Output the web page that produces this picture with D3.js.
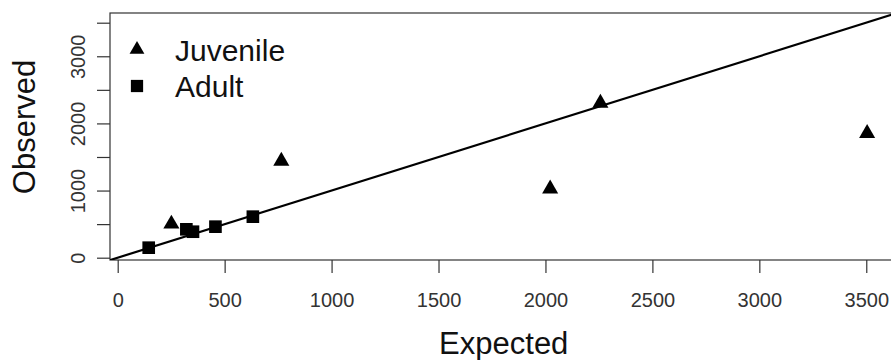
<!DOCTYPE html>
<html>
<head>
<meta charset="utf-8">
<script src="https://cdn.jsdelivr.net/npm/d3@7"></script>
<style>
  html, body { margin: 0; padding: 0; background: #fff; }
  svg { display: block; font-family: "Liberation Sans", Arial, sans-serif; }
</style>
</head>
<body>
<div id="chart"></div>
<script>
// Values
const juvenileExpected = [251, 765, 2022, 2257, 3504];
const juvenileObserved = [503, 1440, 1026, 2304, 1853];
const adultExpected = [145, 321, 352, 457, 632];
const adultObserved = [149, 423, 387, 462, 611];

const xTicks = [0, 500, 1000, 1500, 2000, 2500, 3000, 3500];
const yTicks = [0, 500, 1000, 1500, 2000, 2500, 3000, 3500];
const yTickLabels = [0, 1000, 2000, 3000];

const legendNames = ["Juvenile", "Adult"];

// Size of the drawing
const width = 891, height = 360;
const plot = { left: 110, right: 897.5, top: 13, bottom: 260 };

const svg = d3.select("#chart").append("svg")
    .attr("width", width)
    .attr("height", height);

// Scales (same limits on both axes, like an R plot with equal ranges)
const xScale = d3.scaleLinear().domain([-36, 3646]).range([plot.left, plot.right]);
const yScale = d3.scaleLinear().domain([-34.3, 3644.5]).range([plot.bottom, plot.top]);

// Clip for the 1:1 line
svg.append("clipPath").attr("id", "plot-clip")
    .append("rect")
    .attr("x", plot.left).attr("y", plot.top)
    .attr("width", plot.right - plot.left).attr("height", plot.bottom - plot.top);

// Box round the plot region
svg.append("rect")
    .attr("x", plot.left).attr("y", plot.top)
    .attr("width", plot.right - plot.left).attr("height", plot.bottom - plot.top)
    .attr("fill", "none").attr("stroke", "#333").attr("stroke-width", 1.2);

// X axis
const xAxis = svg.append("g")
    .attr("transform", `translate(0,${plot.bottom})`)
    .call(d3.axisBottom(xScale).tickValues(xTicks).tickSize(13).tickPadding(20).tickFormat(d3.format("d")));
xAxis.select(".domain").remove();
xAxis.selectAll("line").attr("stroke", "#333").attr("stroke-width", 1.2);
xAxis.selectAll("text").attr("font-size", 20).attr("fill", "#333")
    .attr("font-family", "Liberation Sans, Arial, sans-serif");

// Y axis with rotated labels, only every other one has a label
const yAxis = svg.append("g")
    .attr("transform", `translate(${plot.left},0)`)
    .call(d3.axisLeft(yScale).tickValues(yTicks).tickSize(13)
        .tickFormat(d => yTickLabels.includes(d) ? d : ""));
yAxis.select(".domain").remove();
yAxis.selectAll("line").attr("stroke", "#333").attr("stroke-width", 1.2);
yAxis.selectAll("text")
    .attr("font-size", 20).attr("fill", "#333")
    .attr("font-family", "Liberation Sans, Arial, sans-serif")
    .attr("x", 0).attr("dy", 0)
    .attr("text-anchor", "middle")
    .attr("transform", "translate(-25,0) rotate(-90)");

// Axis titles
svg.append("text")
    .attr("x", (plot.left + plot.right) / 2).attr("y", 354)
    .attr("text-anchor", "middle").attr("font-size", 31).attr("fill", "#111")
    .text("Expected");

svg.append("text")
    .attr("transform", "translate(35,127) rotate(-90)")
    .attr("text-anchor", "middle").attr("font-size", 31).attr("fill", "#111")
    .text("Observed");

// The 1:1 line
const lineEnd = 4000;
svg.append("line")
    .attr("clip-path", "url(#plot-clip)")
    .attr("x1", xScale(-100)).attr("y1", yScale(-100))
    .attr("x2", xScale(lineEnd)).attr("y2", yScale(lineEnd))
    .attr("stroke", "#000").attr("stroke-width", 2.2);

// Points
const triangle = d3.symbol().type(d3.symbolTriangle).size(112);
const square = d3.symbol().type(d3.symbolSquare).size(160);

svg.selectAll(".juvenile")
    .data(juvenileExpected)
    .enter()
    .append("path")
    .attr("class", "juvenile")
    .attr("d", triangle)
    .attr("transform", (d, i) => `translate(${xScale(d)},${yScale(juvenileObserved[i])})`)
    .attr("fill", "#000");

svg.selectAll(".adult")
    .data(adultExpected)
    .enter()
    .append("path")
    .attr("class", "adult")
    .attr("d", square)
    .attr("transform", (d, i) => `translate(${xScale(d)},${yScale(adultObserved[i])})`)
    .attr("fill", "#000");

// Legend
const legendSymbols = [d3.symbol().type(d3.symbolTriangle).size(95), d3.symbol().type(d3.symbolSquare).size(150)];
const legend = svg.selectAll(".legend-item")
    .data(legendNames)
    .enter()
    .append("g")
    .attr("class", "legend-item")
    .attr("transform", (d, i) => `translate(137,${49.5 + i * 36.5})`);

legend.append("path")
    .attr("d", (d, i) => legendSymbols[i]())
    .attr("fill", "#000");

legend.append("text")
    .attr("x", 38).attr("y", 11)
    .attr("font-size", 30).attr("fill", "#111")
    .text(d => d);
</script>
</body>
</html>
